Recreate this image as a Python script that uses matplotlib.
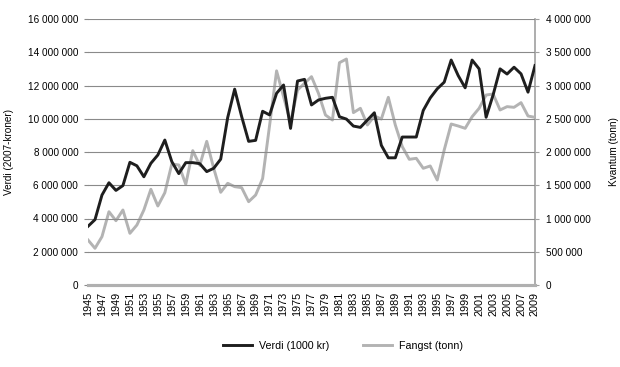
import numpy as np
import matplotlib.pyplot as plt
from matplotlib.ticker import FuncFormatter

plt.rcParams["font.family"] = ["Liberation Sans", "DejaVu Sans"]

years = list(range(1945, 2010))

# Verdi (1000 kr, 2007-kroner), millions
verdi_mill = [3.53, 3.93, 5.41, 6.15, 5.69, 5.98, 7.38, 7.17, 6.51, 7.32,
              7.82, 8.72, 7.42, 6.70, 7.36, 7.36, 7.30, 6.82, 7.02, 7.57,
              10.07, 11.78, 10.13, 8.64, 8.70, 10.45, 10.23, 11.53, 12.03, 9.42,
              12.27, 12.37, 10.83, 11.13, 11.23, 11.29, 10.12, 9.98, 9.56, 9.48,
              9.92, 10.36, 8.40, 7.65, 7.65, 8.90, 8.90, 8.90, 10.50, 11.25,
              11.80, 12.20, 13.53, 12.60, 11.86, 13.53, 13.00, 10.09, 11.43, 13.00,
              12.69, 13.10, 12.70, 11.60, 13.20]

# Fangst (tonn), thousands
fangst_k = [677, 552, 727, 1102, 967, 1128, 777, 902, 1128, 1439,
            1188, 1388, 1820, 1805, 1514, 2020, 1800, 2160, 1755, 1394,
            1529, 1479, 1464, 1253, 1353, 1600, 2400, 3220, 2830, 2445,
            2932, 3033, 3133, 2882, 2556, 2481, 3343, 3398, 2592, 2657,
            2406, 2541, 2496, 2822, 2406, 2080, 1890, 1905, 1755, 1790,
            1579, 2030, 2421, 2391, 2356, 2531, 2657, 2857, 2872, 2632,
            2682, 2672, 2742, 2541, 2521]

verdi = np.array(verdi_mill) * 1e6
fangst = np.array(fangst_k) * 1e3

BLACK = "#1e1e1e"
GREY = "#b3b3b3"


def spaced(v, pos):
    return f"{int(round(v)):,}".replace(",", " ")


fig = plt.figure(figsize=(6.2, 3.67), dpi=100)
ax = fig.add_axes([88 / 620, 1 - 285 / 367, (535 - 88) / 620, (285 - 19) / 367])
ax2 = ax.twinx()

ax.plot(years, verdi, color=BLACK, lw=2.1, zorder=4, label="Verdi (1000 kr)")
ax2.plot(years, fangst, color=GREY, lw=2.1, zorder=3, label="Fangst (tonn)")
ax.set_zorder(ax2.get_zorder() + 1)
ax.patch.set_visible(False)

ax.set_xlim(1945, 2009)
ax.set_ylim(0, 16e6)
ax2.set_ylim(0, 4e6)
ax.set_yticks(np.arange(0, 16e6 + 1, 2e6))
ax2.set_yticks(np.arange(0, 4e6 + 1, 5e5))
ax.yaxis.set_major_formatter(FuncFormatter(spaced))
ax2.yaxis.set_major_formatter(FuncFormatter(spaced))
ax.set_xticks(years[::2])
ax.set_xticklabels([str(y) for y in years[::2]], rotation=90, fontsize=7.8)

ax.grid(axis="y", color="#8a8a8a", lw=0.8)
ax.set_axisbelow(True)
for a in (ax, ax2):
    for s in ("top", "left"):
        a.spines[s].set_visible(False)
    a.spines["bottom"].set_color("#b0b0b0")
    a.spines["bottom"].set_linewidth(2.2)
ax.spines["right"].set_visible(False)
ax2.spines["right"].set_color("#a0a0a0")
ax2.spines["right"].set_linewidth(1.2)

ax.tick_params(axis="y", labelsize=7.2, length=3, color="#8a8a8a", pad=4)
ax.tick_params(axis="x", length=0, pad=5)
ax2.tick_params(axis="y", labelsize=7.2, length=3, color="#a0a0a0", pad=5)

ax.set_ylabel("Verdi (2007-kroner)", fontsize=7.2)
ax.yaxis.set_label_coords(-0.165, 0.5)
ax2.set_ylabel("Kvantum (tonn)", fontsize=7.2)
ax2.yaxis.set_label_coords(1.165, 0.5)

h1, l1 = ax.get_legend_handles_labels()
h2, l2 = ax2.get_legend_handles_labels()
fig.legend(h1 + h2, l1 + l2, loc="center", bbox_to_anchor=(343 / 620, 1 - 346 / 367),
           ncol=2, frameon=False, fontsize=7.7, handlelength=2.7, handletextpad=0.6,
           columnspacing=3.2)

fig.savefig("out.png", dpi=100)
